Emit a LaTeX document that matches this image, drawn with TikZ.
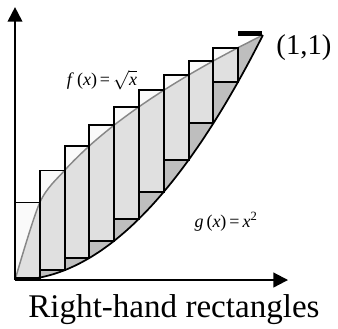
\documentclass[tikz,border=0pt]{standalone}
\usepackage{fontspec}
\setmainfont{Liberation Serif}
\usetikzlibrary{arrows.meta}
\definecolor{cdark}{RGB}{190, 190, 190}
\definecolor{clight}{RGB}{224, 224, 224}
\definecolor{cfcurve}{RGB}{135, 135, 135}
\tikzset{
  axisline/.style={-{Triangle[length=11pt, width=11pt]}, line width=1.5pt, draw=black},
  stripbox/.style={draw=black, line width=1.4pt},
  fline/.style={draw=cfcurve, line width=1.1pt},
  gline/.style={draw=black, line width=1.3pt},
  lab/.style={font=\fontsize{13.5}{15}\selectfont, inner sep=0pt},
  biglab/.style={font=\fontsize{21.5}{24}\selectfont, inner sep=0pt},
}

\begin{document}
\begin{tikzpicture}[x=186pt, y=183.75pt]
\useasboundingbox (-0.0605,-0.1959) rectangle (1.3024,1.1429);

% ---------- region between the curves ----------
\fill[cdark] plot[smooth, domain=0:1, samples=11] (\x,{sqrt(\x)})
  -- plot[smooth, domain=1:0, samples=21] (\x,{\x*\x}) -- cycle;

% ---------- right-hand rectangles ----------
\foreach \i in {1,...,9} {
  \pgfmathsetmacro\xr{\i/10}
  \fill[white!98!black] ({\xr-0.1},{\xr*\xr}) rectangle ({\xr},{sqrt(\xr)});
}
\begin{scope}
  \clip plot[smooth, domain=0:1, samples=11] (\x,{sqrt(\x)})
    -- plot[smooth, domain=1:0, samples=21] (\x,{\x*\x}) -- cycle;
  \foreach \i in {1,...,9} {
    \pgfmathsetmacro\xr{\i/10}
    \fill[clight] ({\xr-0.1},{\xr*\xr}) rectangle ({\xr},{sqrt(\xr)});
  }
\end{scope}

% ---------- curves ----------
\draw[fline] plot[smooth, domain=0:1, samples=11] (\x,{sqrt(\x)});
\draw[gline] plot[smooth, domain=0:1, samples=21] (\x,{\x*\x});

\foreach \i in {1,...,9} {
  \pgfmathsetmacro\xr{\i/10}
  \draw[stripbox] ({\xr-0.1},{\xr*\xr}) rectangle ({\xr},{sqrt(\xr)});
}
\draw[line width=4pt] (0.9,1.005) -- (0.995,1.005);

% ---------- axes ----------
\coordinate (O) at (0,0);
\coordinate (xtip) at (1.101,0);
\coordinate (ytip) at (0,1.114);
\draw[axisline] (O) -- (xtip);
\draw[axisline] (O) -- (ytip);

% ---------- labels ----------
\node[lab] (flab) at (0.351,0.816)
  {\textit{f}\,(\textit{x})\,=\,$\sqrt{\textit{x}}$};
\node[lab] (glab) at (0.851,0.237)
  {\textit{g}\,(\textit{x})\,=\,\textit{x}\textsuperscript{2}};
\node[biglab] (pt) at (1.165,0.947) {(1,1)};
\node[font=\fontsize{24.8}{28}\selectfont, inner sep=0pt, anchor=base] (title)
  at (0.641,-0.155) {Right-hand rectangles};

\end{tikzpicture}
\end{document}
